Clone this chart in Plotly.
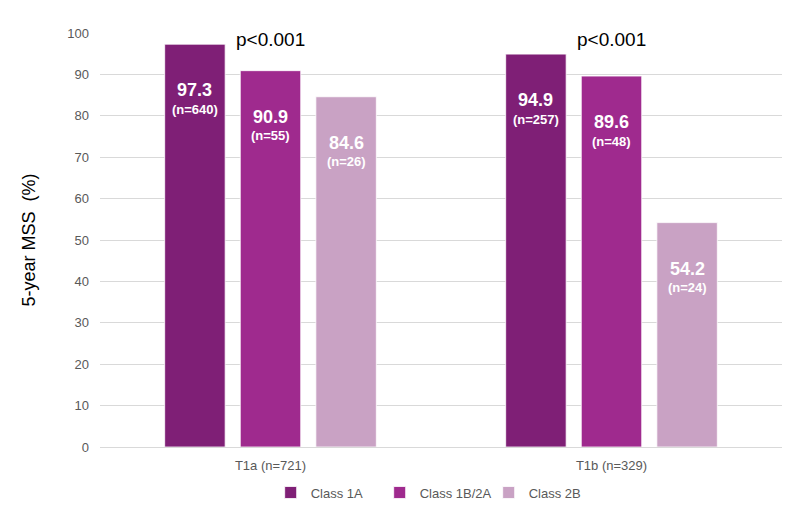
import plotly.graph_objects as go

# chart data
groups = ['T1a (n=721)', 'T1b (n=329)']
classes = ['Class 1A', 'Class 1B/2A', 'Class 2B']
mss = {
    'Class 1A': [97.3, 94.9],
    'Class 1B/2A': [90.9, 89.6],
    'Class 2B': [84.6, 54.2],
}
n_labels = {
    'Class 1A': ['(n=640)', '(n=257)'],
    'Class 1B/2A': ['(n=55)', '(n=48)'],
    'Class 2B': ['(n=26)', '(n=24)'],
}
p_values = ['p<0.001', 'p<0.001']

colors = ['#7F1F76', '#9F2A8E', '#C9A2C4']
bargap = 0.335
font = 'Liberation Sans'

fig = go.Figure()
for cls, col in zip(classes, colors):
    fig.add_trace(go.Bar(
        x=groups, y=mss[cls], name=cls,
        marker=dict(color=col, line=dict(color='white', width=0.8)),
        hoverinfo='skip',
    ))

# labels inside the bars + p-values
slot = (1 - bargap) / len(classes)
annotations = []
for k, cls in enumerate(classes):
    off = (k - 1) * slot
    for i, v in enumerate(mss[cls]):
        annotations.append(dict(
            x=i + off, y=v, xref='x', yref='y', text='<b>%.1f</b>' % v,
            showarrow=False, yanchor='middle', yshift=-46,
            font=dict(family=font, size=18, color='white')))
        annotations.append(dict(
            x=i + off, y=v, xref='x', yref='y', text='<b>%s</b>' % n_labels[cls][i],
            showarrow=False, yanchor='middle', yshift=-65,
            font=dict(family=font, size=13, color='white')))
for i, p in enumerate(p_values):
    annotations.append(dict(
        x=i, y=100, xref='x', yref='y', text=p, showarrow=False,
        yanchor='middle', yshift=-6,
        font=dict(family=font, size=19, color='black')))

fig.update_layout(
    width=800, height=520,
    margin=dict(l=92, r=26, t=25, b=81),
    paper_bgcolor='white', plot_bgcolor='white',
    barmode='group', bargap=bargap, bargroupgap=0.2,
    font=dict(family=font, size=13, color='#595959'),
    showlegend=True,
    legend=dict(orientation='h', x=0.49, xanchor='center', y=-0.11, yanchor='middle',
                font=dict(size=13, color='#595959'), itemwidth=30, traceorder='normal',
                entrywidth=64),
    annotations=annotations,
)
fig.update_yaxes(
    range=[0, 100], dtick=10, showgrid=True, gridcolor='#D9D9D9', gridwidth=1,
    zeroline=False, showline=False, ticks='', ticklabelstandoff=10,
    tickfont=dict(size=13, color='#595959'),
    title=dict(text='5-year MSS  (%)', font=dict(size=18, color='black'), standoff=26),
)
fig.update_xaxes(
    showline=True, linecolor='#D9D9D9', linewidth=1, ticks='', ticklabelstandoff=6,
    tickfont=dict(size=13, color='#595959'),
)

fig.write_html("out.html")
